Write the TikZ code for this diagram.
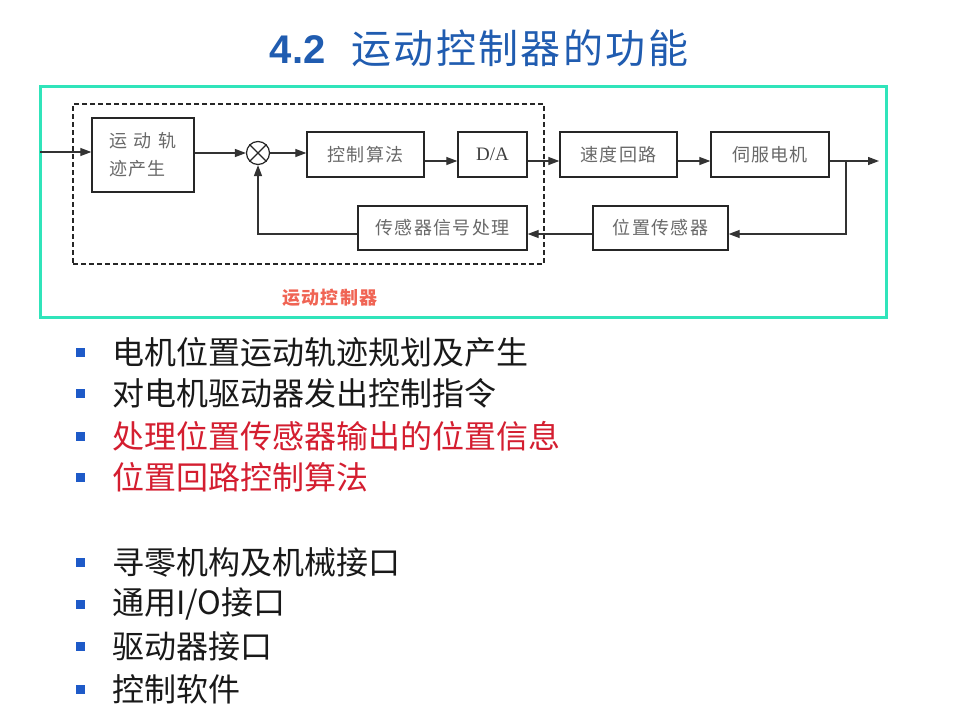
\documentclass[tikz,border=0pt]{standalone}
\usepackage{fontspec}
\setmainfont{Liberation Serif}
\newfontfamily\cjk{Noto Sans CJK SC}
\newfontfamily\cjkbox{Noto Sans CJK SC}[LetterSpace=7]
\newfontfamily\cjktitle{Noto Sans CJK SC}[LetterSpace=6]
\newfontfamily\titlelat{Liberation Sans}
\usetikzlibrary{arrows.meta,calc}
\definecolor{titleblue}{RGB}{32,92,176}
\definecolor{frame}{RGB}{48,228,186}
\definecolor{labelred}{RGB}{240,100,84}
\definecolor{bulblue}{RGB}{30,90,200}
\definecolor{redtxt}{RGB}{212,30,48}
\definecolor{boxtxt}{RGB}{105,105,105}
\tikzset{
  blk/.style={draw=black!85, line width=1.4pt, minimum height=45pt, inner sep=0pt,
    font=\cjkbox\fontsize{18}{24}\selectfont, text=boxtxt},
  wire/.style={draw=black!80, line width=1.3pt},
  arr/.style={wire, -{Triangle[length=11pt,width=8pt]}},
  bul/.style={fill=bulblue, minimum size=9pt, inner sep=0pt},
  btxt/.style={anchor=west, inner sep=0pt, font=\cjk\fontsize{32}{36}\selectfont, text=black!90},
}
\begin{document}
\begin{tikzpicture}[x=1pt,y=-1pt]
\useasboundingbox (0,0) rectangle (960,720);
\fill[white] (0,0) rectangle (960,720);

% title
\node[text=titleblue, inner sep=0pt] (title) at (479,48)
  {{\titlelat\bfseries\fontsize{40}{46}\selectfont 4.2}\hspace{26pt}{\cjktitle\fontsize{40}{46}\selectfont 运动控制器的功能}};

% frame
\node[draw=frame, line width=3pt, minimum width=846pt, minimum height=231pt, inner sep=0pt] (frm) at (463,201.5) {};
% dashed controller boundary
\node[draw=black!85, line width=1.3pt, dash pattern=on 5pt off 3pt, minimum width=471pt, minimum height=160pt, inner sep=0pt] (ctrlr) at (308.5,184) {};

% blocks
\node[blk, minimum width=102pt, minimum height=74pt, align=left] (gen) at (143,155) {运\hspace{7pt}动\hspace{7pt}轨\\[4pt]迹产生};
\node[draw=black!85, line width=1.2pt, circle, minimum size=23pt, inner sep=0pt] (sum) at (258,153) {};
\draw[black!85, line width=1.2pt] (sum.north west) -- (sum.south east) (sum.north east) -- (sum.south west);
\node[blk, minimum width=117pt] (ctrl) at (365.5,154.5) {控制算法};
\node[blk, minimum width=69pt, font=\fontsize{19}{22}\selectfont, text=black!75] (da) at (492.5,154.5) {D/A};
\node[blk, minimum width=117pt] (spd) at (618.5,154.5) {速度回路};
\node[blk, minimum width=118pt] (motor) at (770,154.5) {伺服电机};
\node[blk, minimum width=169pt, minimum height=44pt] (sigp) at (442.5,228) {传感器信号处理};
\node[blk, minimum width=135pt, minimum height=44pt] (pos) at (660.5,228) {位置传感器};

\node[text=labelred, inner sep=0pt, font=\cjkbox\bfseries\fontsize{18}{20}\selectfont] (lab) at (330,298) {运动控制器};

% helper coordinates
\coordinate (in) at (40,152);
\coordinate (r) at (0,161);
\coordinate (fb) at (0,234);
\coordinate (j) at (846,161);
\coordinate (out) at (879,161);

% connectors
\draw[arr] (in) -- (in -| gen.west);
\draw[arr] (sum.west -| gen.east) -- (sum.west);
\draw[arr] (sum.east) -- (sum.east -| ctrl.west);
\draw[arr] (ctrl.east |- r) -- (da.west |- r);
\draw[arr] (da.east |- r) -- (spd.west |- r);
\draw[arr] (spd.east |- r) -- (motor.west |- r);
\draw[arr] (motor.east |- r) -- (out);
\draw[arr] (j) -- (j |- fb) -- (fb -| pos.east);
\draw[arr] (pos.west |- fb) -- (sigp.east |- fb);
\draw[arr] (sigp.west |- fb) -| (sum.south);

% bullets
\node[bul] (b1) at (80.5,352) {};
\node[btxt] (t1) at (112,352) {电机位置运动轨迹规划及产生};
\node[bul] (b2) at (80.5,393) {};
\node[btxt] (t2) at (112,393) {对电机驱动器发出控制指令};
\node[bul] (b3) at (80.5,436) {};
\node[btxt, text=redtxt] (t3) at (112,436) {处理位置传感器输出的位置信息};
\node[bul] (b4) at (80.5,477) {};
\node[btxt, text=redtxt] (t4) at (112,477) {位置回路控制算法};
\node[bul] (b5) at (80.5,562) {};
\node[btxt] (t5) at (112,562) {寻零机构及机械接口};
\node[bul] (b6) at (80.5,604) {};
\node[btxt] (t6) at (112,604) {通用I/O接口};
\node[bul] (b7) at (80.5,646) {};
\node[btxt] (t7) at (112,646) {驱动器接口};
\node[bul] (b8) at (80.5,689) {};
\node[btxt] (t8) at (112,689) {控制软件};
\end{tikzpicture}
\end{document}
